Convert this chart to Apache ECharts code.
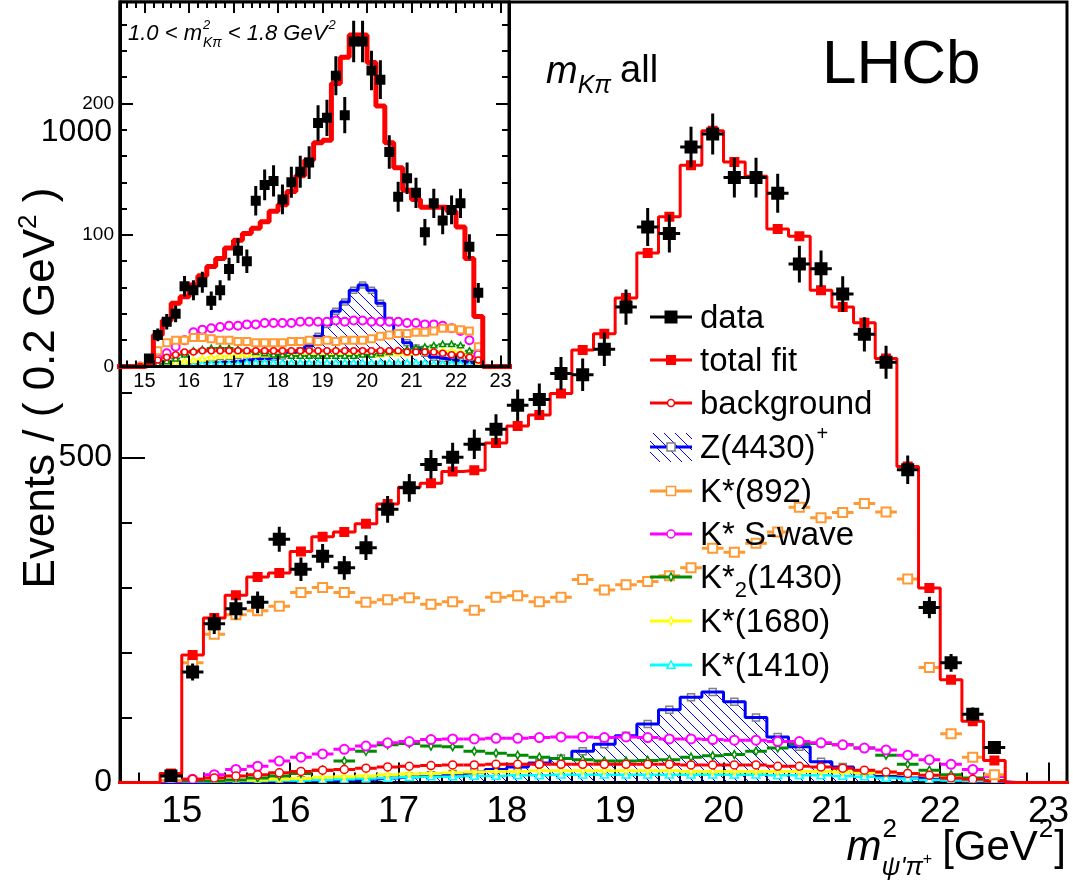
<!DOCTYPE html>
<html>
<head>
<meta charset="utf-8">
<title>LHCb m2(psi' pi+) fit projection</title>
<script src="https://cdn.jsdelivr.net/npm/echarts/dist/echarts.min.js"></script>
<style>html,body{margin:0;padding:0;background:#fff;}#chart{width:1073px;height:884px;}</style>
</head>
<body>
<div id="chart"></div>
<script>
const FONT = '"Liberation Sans", Arial, Helvetica, sans-serif';

// ---------------- data (bin centres, 0.2 GeV^2 bins) ----------------
const binCenters = [14.9,15.1,15.3,15.5,15.7,15.9,16.1,16.3,16.5,16.7,16.9,17.1,17.3,17.5,17.7,17.9,18.1,18.3,18.5,18.7,18.9,19.1,19.3,19.5,19.7,19.9,20.1,20.3,20.5,20.7,20.9,21.1,21.3,21.5,21.7,21.9,22.1,22.3,22.5];

// main panel (m_Kpi all)
const dataCounts = [10,170,244,267,277,374,328,348,330,361,420,453,489,500,520,543,580,589,629,627,666,731,854,844,977,997,930,930,906,797,790,751,689,646,481,269,184,105,54];
const totalFit   = [14,196,253,288,316,322,355,378,385,398,428,454,460,478,480,522,548,565,598,665,690,745,814,870,949,1002,954,932,851,840,757,731,707,652,486,299,158,94,34];
const background = [0,5,7,10,12,15,17,19,20,22,24,25,26,27,27,28,28,28,28,28,28,28,28,28,27,27,27,27,25,25,24,22,19,16,14,11,7,5,2];
const z4430      = [0,0,1,1,2,2,3,3,4,5,7,9,11,13,16,20,24,30,37,48,59,72,90,112,131,139,124,100,70,55,32,24,15,10,7,5,3,2,1];
const kst892     = [3,184,228,258,264,271,292,300,292,277,281,284,274,278,265,285,287,278,285,312,296,304,309,318,330,360,354,368,385,423,407,415,429,416,313,177,75,39,12];
const kstSwave   = [0,5,12,20,25,33,39,44,51,56,61,63,66,67,67,68,68,69,70,70,69,70,69,67,67,66,65,65,63,63,61,58,53,50,42,35,28,20,9];
const kst2_1430  = [0,1,2,4,7,10,14,19,33,48,58,60,56,55,48,45,42,39,37,35,33,33,34,35,39,41,43,48,53,60,60,58,53,42,28,19,12,7,3];
const kst1680    = [0,1,2,3,4,5,6,8,9,10,12,13,14,15,16,17,17,18,18,18,18,18,18,18,17,17,17,17,17,17,17,16,15,14,13,11,8,5,3];
const kst1410    = [0,1,1,2,2,3,3,4,5,6,7,8,9,9,10,10,11,11,12,12,12,12,12,12,12,12,12,12,11,11,11,10,9,7,6,4,3,2,1];

// inset (1.0 < m2_Kpi < 1.8 GeV^2)
const insetData  = [0,6,24,34,40,61,58,64,50,58,74,88,80,126,138,141,127,140,148,155,185,189,221,191,247,247,225,218,163,129,143,132,102,124,111,119,124,91,56];
const insetFit   = [0,1,24,35,48,53,62,69,76,82,90,96,101,105,110,118,123,133,145,157,170,172,215,235,252,252,231,198,170,151,134,127,121,121,121,118,106,82,38];
const insetBkg   = [0,1,5,7,9,11,11,12,12,12,12,12,12,12,12,12,12,12,12,12,12,12,12,12,12,12,12,12,12,12,11,11,11,11,10,9,9,7,5];
const insetZ     = [0,0,1,1,1,1,1,2,2,3,3,4,5,6,6,7,8,10,12,16,23,32,42,49,58,62,58,48,35,25,18,14,10,7,6,5,4,3,1];
const insetK892  = [0,3,12,18,20,20,22,22,21,20,20,19,19,18,18,18,18,19,19,20,19,20,19,20,20,20,21,23,24,25,25,26,26,27,29,29,28,27,15];
const insetSwave = [0,0,6,10,15,20,26,28,29,30,31,31,32,32,33,33,33,33,34,34,34,34,35,34,35,35,34,34,34,34,33,33,32,32,31,29,27,20,9];
const insetK2    = [0,0,2,4,6,9,12,13,14,14,14,13,12,11,10,9,9,8,8,8,8,8,8,8,8,9,9,10,11,12,13,14,15,16,17,17,16,12,5];
const insetK1680 = [0,0,1,2,3,4,5,6,7,8,8,9,9,9,9,9,9,9,9,9,9,9,9,9,9,9,9,9,10,10,10,11,11,12,12,12,11,9,4];
const insetK1410 = [0,0,0,1,1,1,1,2,2,2,2,2,3,3,3,3,3,3,3,3,3,3,3,3,3,3,3,3,3,3,3,3,3,2,2,2,2,1,1];

const legendLabels = ['data','total fit','background','Z(4430)','K*(892)','K* S-wave','K*','K*(1680)','K*(1410)'];

// ---------------- helpers ----------------
const chart = echarts.init(document.getElementById('chart'), null, {renderer: 'canvas'});
const HALF = (binCenters[1] - binCenters[0]) / 2;

function pts(vals) { return binCenters.map((c, i) => [c, vals[i]]); }
function stepData(vals) {
  const w = binCenters[1] - binCenters[0];
  const f = binCenters[0], l = binCenters[binCenters.length - 1];
  const pre = [4, 3, 2, 1].map(k => [f - k * w, 0]);
  const post = [1, 2, 3, 4, 5].map(k => [l + k * w, 0]);
  return pre.concat(pts(vals), post);
}
function makeHatch(color, s, lw) {
  const c = document.createElement('canvas');
  c.width = s; c.height = s;
  const ctx = c.getContext('2d');
  ctx.strokeStyle = color; ctx.lineWidth = lw;
  ctx.beginPath();
  ctx.moveTo(-1, -1); ctx.lineTo(s + 1, s + 1);
  ctx.moveTo(s - 1, -1); ctx.lineTo(s + 1, 1);
  ctx.moveTo(-1, s - 1); ctx.lineTo(1, s + 1);
  ctx.stroke();
  return c;
}
const hatchCanvas = makeHatch('#0000ff', 11, 1);
function hatchFill() { return {image: hatchCanvas, repeat: 'repeat'}; }

function marker(kind, cx, cy, s, color, lw) {
  const h = s / 2;
  switch (kind) {
    case 'fsquare': return {type: 'rect', shape: {x: cx - h, y: cy - h, width: s, height: s}, style: {fill: color}};
    case 'osquare': return {type: 'rect', shape: {x: cx - h, y: cy - h, width: s, height: s}, style: {fill: '#fff', stroke: color, lineWidth: lw}};
    case 'ocircle': return {type: 'circle', shape: {cx: cx, cy: cy, r: h}, style: {fill: '#fff', stroke: color, lineWidth: lw}};
    case 'diamond': return {type: 'polygon', shape: {points: [[cx, cy - h], [cx + h * 0.55, cy], [cx, cy + h], [cx - h * 0.55, cy]]}, style: {fill: '#fff', stroke: color, lineWidth: lw}};
    case 'otriangle': return {type: 'polygon', shape: {points: [[cx, cy - h], [cx + h, cy + h * 0.8], [cx - h, cy + h * 0.8]]}, style: {fill: '#fff', stroke: color, lineWidth: lw}};
  }
}

function compSeries(o) {
  let d = pts(o.vals);
  if (o.skipZero) d = d.filter(p => p[1] > 0);
  return {
    type: 'custom', xAxisIndex: o.axis, yAxisIndex: o.axis, z: o.z, clip: true, silent: true,
    data: d,
    renderItem: function (params, api) {
      const x = api.value(0), y = api.value(1);
      const c = api.coord([x, y]);
      const ch = [];
      if (o.barW) {
        const l = api.coord([x - HALF, y]), r = api.coord([x + HALF, y]);
        ch.push({type: 'line', shape: {x1: l[0], y1: l[1], x2: r[0], y2: r[1]}, style: {stroke: o.color, lineWidth: o.barW}});
      }
      if (o.err) {
        const e = Math.sqrt(y);
        const t = api.coord([x, y + e]), b = api.coord([x, Math.max(0, y - e)]);
        ch.push({type: 'line', shape: {x1: t[0], y1: t[1], x2: b[0], y2: b[1]}, style: {stroke: o.color, lineWidth: o.errW}});
      }
      ch.push(marker(o.kind, c[0], c[1], o.size, o.color, o.lw || 1.5));
      return {type: 'group', children: ch};
    }
  };
}
function stepSeries(vals, color, width, axis, z, area) {
  const s = {type: 'line', step: 'middle', xAxisIndex: axis, yAxisIndex: axis, z: z, data: stepData(vals),
    symbol: 'none', showSymbol: false, lineStyle: {color: color, width: width}, silent: true, clip: true};
  if (area) s.areaStyle = {color: area, opacity: 1};
  return s;
}

const C = {red: '#ff0000', blue: '#0000ff', gray: '#808080', orange: '#ff9933', magenta: '#ff00ff', green: '#008c00', yellow: '#ffff00', cyan: '#00ffff'};

// ---------------- series ----------------
const series = [];
// main panel
series.push(stepSeries(z4430, C.blue, 3, 0, 2, hatchFill()));
series.push(compSeries({vals: z4430, color: C.gray, kind: 'osquare', size: 7, lw: 1.5, axis: 0, z: 2}));
series.push(compSeries({vals: kst1410, color: C.cyan, kind: 'otriangle', size: 8, lw: 1.5, barW: 2.5, axis: 0, z: 3}));
series.push(compSeries({vals: kst1680, color: C.yellow, kind: 'diamond', size: 7, lw: 1.5, barW: 3, axis: 0, z: 3}));
series.push(compSeries({vals: kst2_1430, color: C.green, kind: 'diamond', size: 8, lw: 1.5, barW: 3, axis: 0, z: 4}));
series.push(compSeries({vals: kstSwave, color: C.magenta, kind: 'ocircle', size: 9, lw: 2, barW: 3, axis: 0, z: 4}));
series.push(compSeries({vals: background, color: C.red, kind: 'ocircle', size: 8, lw: 1.5, barW: 3, axis: 0, z: 5}));
series.push(compSeries({vals: kst892, color: C.orange, kind: 'osquare', size: 9, lw: 2, barW: 3, axis: 0, z: 5}));
series.push(stepSeries(totalFit, C.red, 3, 0, 6));
series.push(compSeries({vals: totalFit, color: C.red, kind: 'fsquare', size: 10, axis: 0, z: 6}));
series.push(compSeries({vals: dataCounts, color: '#000', kind: 'fsquare', size: 13, barW: 3, err: true, errW: 3, axis: 0, z: 7, skipZero: true}));
// inset
series.push(stepSeries(insetZ, C.blue, 3, 1, 21, hatchFill()));
series.push(compSeries({vals: insetZ, color: C.gray, kind: 'osquare', size: 6, lw: 1.5, axis: 1, z: 21}));
series.push(compSeries({vals: insetK1410, color: C.cyan, kind: 'otriangle', size: 6, lw: 1.5, barW: 2, axis: 1, z: 22}));
series.push(compSeries({vals: insetK1680, color: C.yellow, kind: 'otriangle', size: 6, lw: 1.5, barW: 2, axis: 1, z: 22}));
series.push(compSeries({vals: insetK2, color: C.green, kind: 'otriangle', size: 6, lw: 1.5, barW: 2, axis: 1, z: 22}));
series.push(compSeries({vals: insetSwave, color: C.magenta, kind: 'ocircle', size: 8, lw: 2, axis: 1, z: 23}));
series.push(compSeries({vals: insetK892, color: C.orange, kind: 'osquare', size: 7, lw: 2, axis: 1, z: 23}));
series.push(compSeries({vals: insetBkg, color: C.red, kind: 'ocircle', size: 6, lw: 1.5, barW: 3, axis: 1, z: 24}));
series.push(stepSeries(insetFit, C.red, 5, 1, 25));
series.push(compSeries({vals: insetData, color: '#000', kind: 'fsquare', size: 10, err: true, errW: 3, axis: 1, z: 26, skipZero: true}));

// ---------------- axes ----------------
const tickStyle = {color: '#000', width: 2};
const plain = v => String(v);
const xAxes = [
  {gridIndex: 0, type: 'value', min: 14.43, max: 23.17, splitNumber: 8, minInterval: 1, maxInterval: 1,
    axisLine: {show: true, onZero: false, lineStyle: {color: '#000', width: 3}},
    axisTick: {show: true, inside: true, length: 20, lineStyle: tickStyle},
    minorTick: {show: true, splitNumber: 5, length: 10, lineStyle: tickStyle},
    axisLabel: {show: true, color: '#000', fontSize: 37, fontFamily: FONT, margin: 11, showMinLabel: false, showMaxLabel: false, formatter: plain},
    splitLine: {show: false}, minorSplitLine: {show: false}},
  {gridIndex: 1, type: 'value', min: 14.45, max: 23.19, splitNumber: 8, minInterval: 1, maxInterval: 1, z: 30,
    axisLine: {show: true, onZero: false, lineStyle: {color: '#000', width: 3}},
    axisTick: {show: true, inside: true, length: 11, lineStyle: tickStyle},
    minorTick: {show: true, splitNumber: 5, length: 6, lineStyle: tickStyle},
    axisLabel: {show: true, color: '#000', fontSize: 20, fontFamily: FONT, margin: 5, showMinLabel: false, showMaxLabel: false, formatter: plain},
    splitLine: {show: false}, minorSplitLine: {show: false}},
  {gridIndex: 1, type: 'value', position: 'top', min: 14.45, max: 23.19, splitNumber: 8, minInterval: 1, maxInterval: 1, z: 30,
    axisLine: {show: false, onZero: false},
    axisTick: {show: true, inside: true, length: 11, lineStyle: tickStyle},
    minorTick: {show: true, splitNumber: 5, length: 6, lineStyle: tickStyle},
    axisLabel: {show: false}, splitLine: {show: false}, minorSplitLine: {show: false}}
];
function insetY(pos, interval, len, labels, line) {
  return {gridIndex: 1, type: 'value', position: pos, min: 0, max: 277, interval: interval, z: 30,
    axisLine: {show: line, onZero: false, lineStyle: {color: '#000', width: 3}},
    axisTick: {show: true, inside: true, length: len, lineStyle: tickStyle},
    minorTick: {show: false},
    axisLabel: {show: labels, color: '#000', fontSize: 19, fontFamily: FONT, margin: 6, showMaxLabel: false, formatter: plain},
    splitLine: {show: false}};
}
const yAxes = [
  {gridIndex: 0, type: 'value', min: 0, max: 1200, interval: 500,
    axisLine: {show: true, onZero: false, lineStyle: {color: '#000', width: 3}},
    axisTick: {show: true, inside: true, length: 25, lineStyle: tickStyle},
    minorTick: {show: true, splitNumber: 5, length: 12, lineStyle: tickStyle},
    axisLabel: {show: true, color: '#000', fontSize: 32, fontFamily: FONT, margin: 8, showMaxLabel: false, formatter: plain},
    splitLine: {show: false}, minorSplitLine: {show: false}},
  insetY('left', 100, 13, true, true),
  insetY('left', 20, 7, false, false),
  insetY('right', 100, 13, false, true),
  insetY('right', 20, 7, false, false)
];

// ---------------- texts & legend (graphic) ----------------
const mctx = document.createElement('canvas').getContext('2d');
function tw(t, size, italic) { mctx.font = (italic ? 'italic ' : '') + size + 'px ' + FONT; return mctx.measureText(t).width; }
function txt(t, x, y, size, o) {
  o = o || {};
  return {type: 'text', x: x, y: y, z: 100, silent: true,
    style: {text: t, fontSize: size, fontFamily: FONT, fontStyle: o.italic ? 'italic' : 'normal', fill: '#000',
      align: o.align || 'left', verticalAlign: o.va || 'middle'}};
}
const g = [];
// LHCb and selection label
g.push(txt('LHCb', 822, 66, 62));
(function () {
  const x0 = 546, y0 = 72;
  const wm = tw('m', 38, true);
  g.push(txt('m', x0, y0, 38, {italic: true}));
  g.push(txt('Kπ', x0 + wm, y0 + 14, 25, {italic: true}));
  g.push(txt('all', x0 + wm + tw('Kπ', 25, true) + 9, y0, 38));
})();
// inset label
(function () {
  const x0 = 128, y0 = 34, fs = 22;
  const a = '1.0 < m';
  const wa = tw(a, fs, true);
  g.push(txt(a, x0, y0, fs, {italic: true}));
  g.push(txt('2', x0 + wa + 1, y0 - 9, 13, {italic: true}));
  g.push(txt('Kπ', x0 + wa + 1, y0 + 9, 14, {italic: true}));
  const x1 = x0 + wa + tw('Kπ', 14, true) + 7;
  const b = '< 1.8 GeV';
  g.push(txt(b, x1, y0, fs, {italic: true}));
  g.push(txt('2', x1 + tw(b, fs, true) + 1, y0 - 9, 13, {italic: true}));
})();
// x-axis title (right aligned at frame edge)
(function () {
  const fs = 42, fsS = 26, y0 = 848;
  const wm = tw('m', fs, true), wp = tw('ψ\'π', fsS, true), wplus = tw('+', 16);
  const wG = tw('[GeV', fs), w2 = tw('2', fsS), wB = tw(']', fs);
  const total = wm + wp + wplus + 10 + wG + w2 + 2 + wB;
  const x0 = 1066 - total;
  g.push(txt('m', x0, y0, fs, {italic: true}));
  g.push(txt('2', x0 + wm + 1, y0 - 18, fsS));
  g.push(txt('ψ\'π', x0 + wm, y0 + 20, fsS, {italic: true}));
  g.push(txt('+', x0 + wm + wp, y0 + 12, 16));
  const x1 = x0 + wm + wp + wplus + 10;
  g.push(txt('[GeV', x1, y0, fs));
  g.push(txt('2', x1 + wG + 1, y0 - 18, fsS));
  g.push(txt(']', x1 + wG + w2 + 2, y0, fs));
})();
// y-axis title (rotated)
g.push({type: 'text', x: 40, y: 388, rotation: Math.PI / 2, z: 100, silent: true,
  style: {text: '{a|Events / ( 0.2 GeV}{b|2}{a| )}', align: 'center', verticalAlign: 'middle', fill: '#000',
    rich: {a: {fontSize: 44, fontFamily: FONT, lineHeight: 48, verticalAlign: 'bottom'},
           b: {fontSize: 26, fontFamily: FONT, lineHeight: 26, verticalAlign: 'top'}}}});

// legend
const LX0 = 650, LX1 = 692, LXM = 671, LTX = 700, LFS = 33;
const legendY = [317, 360, 403, 447, 491, 534, 577, 621, 665];
function lline(y, color, w) { return {type: 'line', z: 100, shape: {x1: LX0, y1: y, x2: LX1, y2: y}, style: {stroke: color, lineWidth: w}}; }
function lmark(kind, y, s, color, lw) { const m = marker(kind, LXM, y, s, color, lw); m.z = 101; return m; }
const legendStyle = [
  ['#000', 'fsquare', 13, 0], [C.red, 'fsquare', 10, 0], [C.red, 'ocircle', 7, 1.5], [C.blue, 'osquare', 8, 1.5],
  [C.orange, 'osquare', 9, 1.5], [C.magenta, 'ocircle', 8, 1.5], [C.green, 'diamond', 8, 1.5], [C.yellow, 'diamond', 8, 1.5], [C.cyan, 'otriangle', 8, 1.5]
];
legendY.forEach((y, i) => {
  const st = legendStyle[i];
  if (i === 3) {
    g.push({type: 'rect', z: 99, shape: {x: LX0, y: y - 14, width: LX1 - LX0, height: 29}, style: {fill: hatchFill()}});
    g.push(lline(y, C.blue, 3));
    g.push(lmark('osquare', y, 8, C.gray, 1.5));
  } else {
    g.push(lline(y, st[0], 3));
    g.push(lmark(st[1], y, st[2], st[0], st[3]));
  }
  g.push(txt(legendLabels[i], LTX, y + 2, LFS));
});
g.push(txt('+', LTX + tw('Z(4430)', LFS) + 1, legendY[3] - 13, 20));
g.push(txt('2', LTX + tw('K*', LFS), legendY[6] + 14, 22));
g.push(txt('(1430)', LTX + tw('K*', LFS) + tw('2', 22), legendY[6] + 2, LFS));

// ---------------- option ----------------
chart.setOption({
  animation: false,
  backgroundColor: '#fff',
  grid: [
    {left: 120, right: 6, top: 2, bottom: 101.5, show: true, borderColor: '#000', borderWidth: 3, backgroundColor: 'transparent', z: 0, outerBoundsMode: 'none'},
    {left: 120, right: 564, top: 2, bottom: 517.5, show: true, borderColor: '#000', borderWidth: 3, backgroundColor: '#fff', z: 20, outerBoundsMode: 'none'}
  ],
  xAxis: xAxes,
  yAxis: yAxes,
  series: series,
  graphic: {elements: g}
});
</script>
</body>
</html>
